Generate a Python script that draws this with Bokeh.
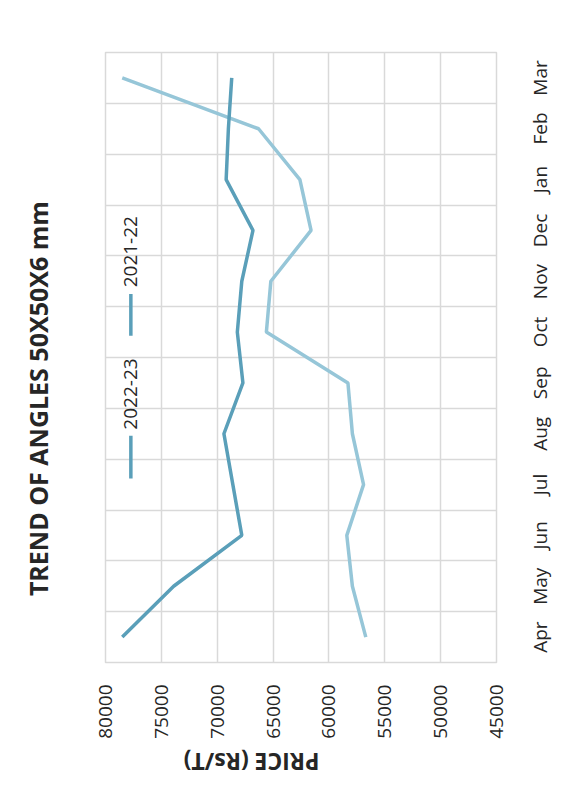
import math
from bokeh.plotting import figure
from bokeh.models import Range1d, FixedTicker, Label, LinearAxis
from bokeh.embed import file_html
from bokeh.resources import INLINE

# ---- data ----
months = ["Apr", "May", "Jun", "Jul", "Aug", "Sep", "Oct", "Nov", "Dec", "Jan", "Feb", "Mar"]
price_2022_23 = [78500, 73900, 67800, 68600, 69400, 67700, 68200, 67800, 66800, 69200, 69000, 68700]
price_2021_22 = [56700, 57900, 58400, 56900, 57900, 58300, 65600, 65200, 61600, 62600, 66300, 78500]
price_ticks = [80000, 75000, 70000, 65000, 60000, 55000, 50000, 45000]
series_names = ["2022-23", "2021-22"]
series_colors = ["#5A9FB9", "#96C6D8"]
legend_marker_color = "#5A9FB9"
title_text = "TREND OF ANGLES 50X50X6 mm"
value_axis_title = "PRICE (Rs/T)"

FONT = "Open Sans"
TXT = "#262626"
GRID = "#D9D9D9"
LABEL_PX = 19
FRAME_H = 610

# approximate Open Sans advance widths (em) used to centre rotated month labels
EM = {"A": .633, "p": .613, "r": .408, "M": .903, "a": .556, "y": .5, "J": .268,
      "u": .613, "n": .613, "l": .253, "g": .549, "S": .535, "e": .561, "O": .781,
      "c": .476, "t": .350, "N": .762, "o": .604, "v": .518, "D": .729, "F": .491, "b": .613}


def text_px(s, size):
    return sum(EM.get(ch, .56) for ch in s) * size


# month categories placed at band centres (i + 0.5); grid lines between bands
month_pos = [i + 0.5 for i in range(len(months))]
units_per_px = len(months) / FRAME_H
# rotated labels on the right axis start at their tick, so shift each tick by half its length
month_tick = [pos - text_px(m, LABEL_PX) / 2 * units_per_px for pos, m in zip(month_pos, months)]

p = figure(width=569, height=796, output_backend="svg", toolbar_location=None,
           x_range=Range1d(price_ticks[0], price_ticks[-1]),
           y_range=Range1d(0, len(months)),
           y_axis_location="right",
           min_border_left=105, min_border_top=52, min_border_right=71, min_border_bottom=134)
p.background_fill_color = "white"
p.border_fill_color = "white"
p.outline_line_color = GRID
p.outline_line_width = 1.5

# grid
p.xgrid.ticker = FixedTicker(ticks=price_ticks)
p.ygrid.ticker = FixedTicker(ticks=list(range(len(months) + 1)))
for g in (p.xgrid, p.ygrid):
    g.grid_line_color = GRID
    g.grid_line_width = 1.5

# axes
xa = p.xaxis[0]
xa.ticker = FixedTicker(ticks=price_ticks)
xa.major_label_overrides = {t: str(t) for t in price_ticks}
xa.major_label_orientation = math.pi / 2
ya = p.yaxis[0]
ya.ticker = FixedTicker(ticks=month_tick)
ya.major_label_overrides = {t: m for t, m in zip(month_tick, months)}
ya.major_label_orientation = math.pi / 2

# value-axis title, drawn upside down like the reference
title_pos_x = 73000
xa2 = LinearAxis(ticker=FixedTicker(ticks=[title_pos_x]),
                 major_label_overrides={title_pos_x: value_axis_title},
                 major_label_orientation=math.pi)
p.add_layout(xa2, "below")

# chart title, rotated on the left
title_pos_y = 5.19
ta = LinearAxis(ticker=FixedTicker(ticks=[title_pos_y]),
                major_label_overrides={title_pos_y: title_text},
                major_label_orientation="vertical")
p.add_layout(ta, "left")

for ax in (xa, ya, xa2, ta):
    ax.axis_line_color = None
    ax.major_tick_line_color = None
    ax.minor_tick_line_color = None
    ax.major_tick_out = 0
    ax.major_tick_in = 0
    ax.axis_label_standoff = 0
    ax.major_label_text_font = FONT
    ax.major_label_text_font_size = f"{LABEL_PX}px"
    ax.major_label_text_color = TXT
xa.major_label_standoff = 22
ya.major_label_standoff = 44
xa2.major_label_text_font_size = "23px"
xa2.major_label_text_font_style = "bold"
xa2.major_label_standoff = 20
ta.major_label_text_font_size = "25px"
ta.major_label_text_font_style = "bold"
ta.major_label_standoff = 50

# lines
p.line(price_2021_22, month_pos, line_color=series_colors[1], line_width=3.5)
p.line(price_2022_23, month_pos, line_color=series_colors[0], line_width=3.5)

# legend (rotated, drawn manually)
leg_x = 77730
leg_items = [(series_names[0], 3.62, 4.46, 4.58),
             (series_names[1], 6.43, 7.25, 7.38)]
for (name, y0, y1, ty) in leg_items:
    p.segment(x0=[leg_x], y0=[y0], x1=[leg_x], y1=[y1],
              line_color=legend_marker_color, line_width=3.5)
    p.add_layout(Label(x=leg_x, y=ty, text=name, angle=math.pi / 2,
                       text_align="left", text_baseline="middle",
                       text_font=FONT, text_font_size=f"{LABEL_PX}px", text_color=TXT))

open("out.html", "w").write(file_html(p, INLINE))
